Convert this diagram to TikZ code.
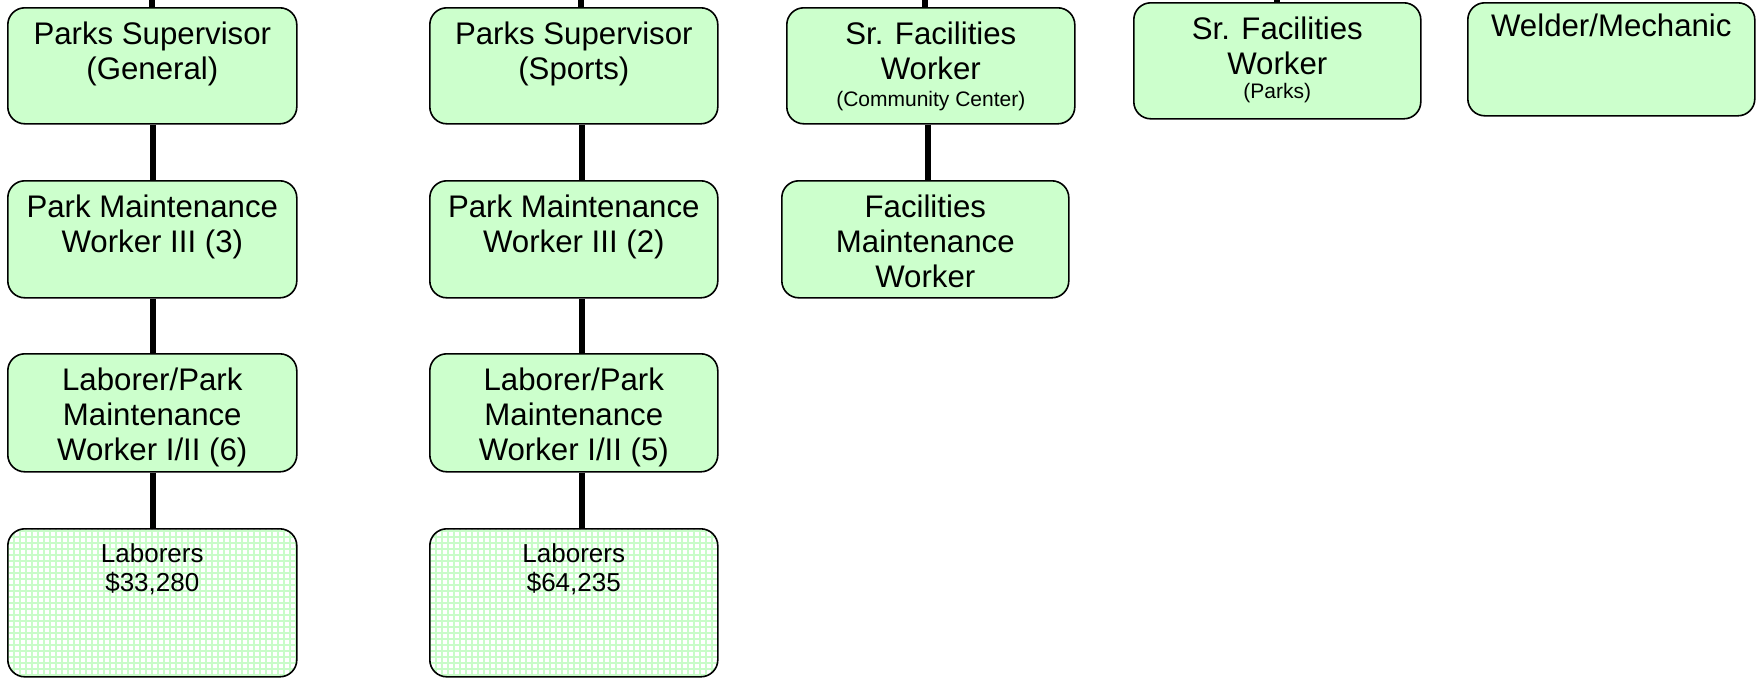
\documentclass[tikz,border=0pt]{standalone}
\usepackage{fontspec}
\setmainfont{Liberation Sans}
\definecolor{boxgreen}{RGB}{204,255,204}
\definecolor{gridgreen}{RGB}{200,252,200}
\begin{document}
\begin{tikzpicture}[x=1pt,y=-1pt,
  box/.style={draw=black, line width=1.6pt, rounded corners=17pt, fill=boxgreen,
              inner sep=0pt, anchor=north west, minimum width=289pt, minimum height=116pt},
  gridbox/.style={box, fill=white, minimum height=148pt,
              path picture={\draw[gridgreen, line width=2.2pt]
                (path picture bounding box.south west) grid[step=6pt]
                (path picture bounding box.north east);}},
  lbl/.style={anchor=north, align=center, inner sep=0pt,
              font=\fontsize{31.2}{35}\selectfont},
  smalllbl/.style={lbl, font=\fontsize{26}{29}\selectfont},
  conn/.style={draw=black, line width=6pt}]
\useasboundingbox (0,0) rectangle (1756,678);

% column 1: general parks crew
\node[box] (ps1) at (7,7) {};
\node[box, minimum height=117pt] (pm1) at (7,180) {};
\node[box, minimum height=118pt] (lw1) at (7,353) {};
\node[gridbox] (lab1) at (7,528) {};

% column 2: sports crew
\node[box, minimum width=288pt] (ps2) at (429,7) {};
\node[box, minimum width=288pt, minimum height=117pt] (pm2) at (429,180) {};
\node[box, minimum width=288pt, minimum height=118pt] (lw2) at (429,353) {};
\node[gridbox, minimum width=288pt] (lab2) at (429,528) {};

% column 3: community center facilities
\node[box, minimum width=288pt] (sf3) at (786,7) {};
\node[box, minimum width=287pt, minimum height=117pt] (fm3) at (781,180) {};

% columns 4 and 5
\node[box, minimum width=287pt] (sf4) at (1133,2) {};
\node[box, minimum width=287pt, minimum height=113pt] (wm5) at (1467,2) {};

% box texts
\node[lbl] (ps1t) at ([yshift=-15pt]ps1.north) {Parks Supervisor\\(General)};
\node[lbl] (pm1t) at ([yshift=-15pt]pm1.north) {Park Maintenance\\Worker III (3)};
\node[lbl] (lw1t) at ([yshift=-15pt]lw1.north) {Laborer/Park\\Maintenance\\Worker I/II (6)};
\node[smalllbl] (lab1t) at ([yshift=-15pt]lab1.north) {Laborers\\\$33,280};

\node[lbl] (ps2t) at ([yshift=-15pt]ps2.north) {Parks Supervisor\\(Sports)};
\node[lbl] (pm2t) at ([yshift=-15pt]pm2.north) {Park Maintenance\\Worker III (2)};
\node[lbl] (lw2t) at ([yshift=-15pt]lw2.north) {Laborer/Park\\Maintenance\\Worker I/II (5)};
\node[smalllbl] (lab2t) at ([yshift=-15pt]lab2.north) {Laborers\\\$64,235};

\node[lbl] (sf3t) at ([yshift=-15pt]sf3.north)
  {Sr. Facilities\\Worker\\[-8pt]{\fontsize{21}{24}\selectfont (Community Center)}};
\node[lbl] (fm3t) at ([yshift=-15pt]fm3.north) {Facilities\\Maintenance\\Worker};
\node[lbl] (sf4t) at ([yshift=-15pt]sf4.north)
  {Sr. Facilities\\Worker\\[-11pt]{\fontsize{21}{24}\selectfont (Parks)}};
\node[lbl] (wm5t) at ([yshift=-12pt]wm5.north) {Welder/Mechanic};

% reporting lines
\draw[conn] ([xshift=1pt]ps1.south) -- ([xshift=1pt]pm1.north);
\draw[conn] ([xshift=1pt]pm1.south) -- ([xshift=1pt]lw1.north);
\draw[conn] ([xshift=1pt]lw1.south) -- ([xshift=1pt]lab1.north);
\draw[conn] ([xshift=8pt]ps2.south) -- ([xshift=8pt]pm2.north);
\draw[conn] ([xshift=8pt]pm2.south) -- ([xshift=8pt]lw2.north);
\draw[conn] ([xshift=8pt]lw2.south) -- ([xshift=8pt]lab2.north);
\draw[conn] ([xshift=-3pt]sf3.south) -- ([xshift=-3pt]sf3.south |- fm3.north);

% lines running up out of the frame
\coordinate (up1) at (152,0);
\coordinate (up2) at (581,0);
\coordinate (up3) at (925,0);
\coordinate (up4) at (1277,0);
\draw[conn] (ps1.north -| up1) -- (up1);
\draw[conn] (ps2.north -| up2) -- (up2);
\draw[conn] (sf3.north -| up3) -- (up3);
\draw[conn] (sf4.north -| up4) -- (up4);
\end{tikzpicture}
\end{document}
